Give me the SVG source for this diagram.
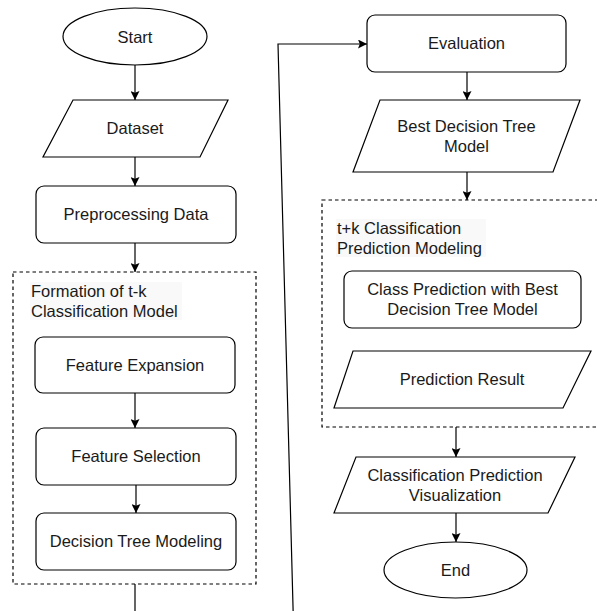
<svg xmlns="http://www.w3.org/2000/svg" width="597" height="611" viewBox="0 0 597 611">
<defs>
<marker id="arr" viewBox="0 0 10 10" refX="10" refY="5" markerWidth="9" markerHeight="9" markerUnits="userSpaceOnUse" orient="auto">
<path d="M0,0 L10,5 L0,10 L2,5 z" fill="#000"/>
</marker>
<style>
.s{fill:#fff;stroke:#000;stroke-width:1.2}
.d{fill:none;stroke:#000;stroke-width:1.2;stroke-dasharray:3.5 3}
.t{font-family:"Liberation Sans",Arial,sans-serif;font-size:16.5px;fill:#1a1a1a;text-anchor:middle}
.l{font-family:"Liberation Sans",Arial,sans-serif;font-size:16.5px;fill:#1a1a1a}
.c{fill:none;stroke:#000;stroke-width:1.2}
.lb{fill:#f9f9f9}
</style>
</defs>
<rect width="597" height="611" fill="#fff"/>

<g id="group-formation">
<rect class="d" x="13" y="272" width="243" height="312"/>
<rect class="lb" x="30" y="282" width="152" height="38"/>
<text class="l" x="31" y="297">Formation of t-k</text>
<text class="l" x="31" y="317">Classification Model</text>
</g>

<g id="group-prediction">
<rect class="d" x="322" y="200" width="290" height="227"/>
<rect class="lb" x="336" y="219" width="150" height="38"/>
<text class="l" x="337" y="234">t+k Classification</text>
<text class="l" x="337" y="254">Prediction Modeling</text>
</g>

<g id="start">
<ellipse class="s" cx="135" cy="36.5" rx="72" ry="28.5"/>
<text class="t" x="135" y="43">Start</text>
</g>
<g id="dataset">
<polygon class="s" points="73,100 228,100 200,157 43,157"/>
<text class="t" x="135" y="134">Dataset</text>
</g>
<g id="preprocessing">
<rect class="s" x="36" y="186" width="200" height="57" rx="8"/>
<text class="t" x="136" y="220">Preprocessing Data</text>
</g>
<g id="feature-expansion">
<rect class="s" x="35" y="337" width="200" height="56" rx="8"/>
<text class="t" x="135" y="371">Feature Expansion</text>
</g>
<g id="feature-selection">
<rect class="s" x="36" y="428" width="200" height="57" rx="8"/>
<text class="t" x="136" y="462">Feature Selection</text>
</g>
<g id="decision-tree-modeling">
<rect class="s" x="36" y="513" width="200" height="57" rx="8"/>
<text class="t" x="136" y="547">Decision Tree Modeling</text>
</g>

<g id="evaluation">
<rect class="s" x="367" y="15" width="199" height="57" rx="8"/>
<text class="t" x="466.5" y="49">Evaluation</text>
</g>
<g id="best-model">
<polygon class="s" points="380,100 580,100 553,172 353,172"/>
<text class="t" x="466.5" y="132">Best Decision Tree</text>
<text class="t" x="466.5" y="152">Model</text>
</g>
<g id="class-prediction">
<rect class="s" x="344" y="271" width="237" height="57" rx="8"/>
<text class="t" x="462.5" y="295">Class Prediction with Best</text>
<text class="t" x="462.5" y="315">Decision Tree Model</text>
</g>
<g id="prediction-result">
<polygon class="s" points="353,351 591,351 563,408 334,408"/>
<text class="t" x="462" y="385">Prediction Result</text>
</g>
<g id="visualization">
<polygon class="s" points="356,457 575,457 548,513 334,513"/>
<text class="t" x="455" y="481">Classification Prediction</text>
<text class="t" x="455" y="501">Visualization</text>
</g>
<g id="end">
<ellipse class="s" cx="455.5" cy="570" rx="71.5" ry="28"/>
<text class="t" x="455.5" y="576">End</text>
</g>

<g id="connectors">
<line class="c" x1="135" y1="65" x2="135" y2="100" marker-end="url(#arr)"/>
<line class="c" x1="135" y1="157" x2="135" y2="186" marker-end="url(#arr)"/>
<line class="c" x1="135" y1="243" x2="135" y2="272" marker-end="url(#arr)"/>
<line class="c" x1="135" y1="393" x2="135" y2="428" marker-end="url(#arr)"/>
<line class="c" x1="136" y1="485" x2="136" y2="513" marker-end="url(#arr)"/>
<path class="c" d="M135,584 L135,625 L293.5,625 L278,44 L367,44" marker-end="url(#arr)"/>
<line class="c" x1="467" y1="72" x2="467" y2="100" marker-end="url(#arr)"/>
<line class="c" x1="467" y1="172" x2="467" y2="200" marker-end="url(#arr)"/>
<line class="c" x1="456" y1="427" x2="456" y2="457" marker-end="url(#arr)"/>
<line class="c" x1="456" y1="513" x2="456" y2="542" marker-end="url(#arr)"/>
</g>
</svg>
